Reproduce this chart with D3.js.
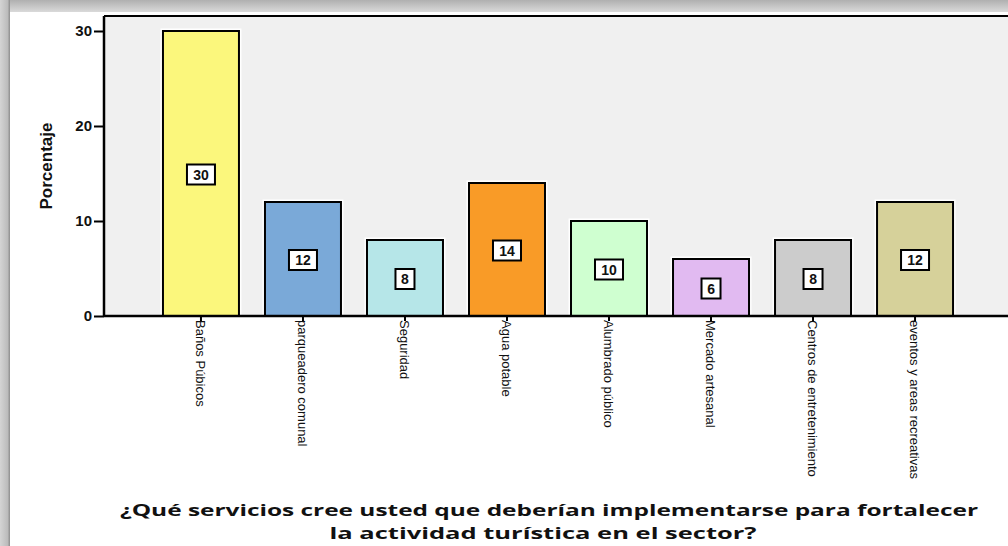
<!DOCTYPE html>
<html>
<head>
<meta charset="utf-8">
<script src="https://cdn.jsdelivr.net/npm/d3@7"></script>
<style>
  html, body { margin: 0; padding: 0; background: #fff; }
  svg { display: block; }
</style>
</head>
<body>
<div id="chart"></div>
<script>
// data
const categories = ["Baños Púbicos", "parqueadero comunal", "Seguridad", "Agua potable",
  "Alumbrado público", "Mercado artesanal", "Centros de entretenimiento", "eventos y areas recreativas"];
const values = [30, 12, 8, 14, 10, 6, 8, 12];
const colors = ["#fbf77c", "#7aa9d8", "#b6e6e8", "#f99b27", "#cfffd0", "#e1baf1", "#cccccc", "#d6d19a"];
const yTicks = [0, 10, 20, 30];
const yTitle = "Porcentaje";
const titleLines = ["¿Qué servicios cree usted que deberían implementarse para fortalecer",
  "la actividad turística en el sector?"];

const W = 1008, H = 546;
const plot = { left: 104, right: 1012, top: 16, bottom: 316 };

const svg = d3.select('#chart').append('svg').attr('width', W).attr('height', H);

// shadow frame
const defs = svg.append('defs');
const gTop = defs.append('linearGradient').attr('id', 'shTop').attr('x1', 0).attr('y1', 0).attr('x2', 0).attr('y2', 1);
gTop.append('stop').attr('offset', 0).attr('stop-color', '#b0b0b0');
gTop.append('stop').attr('offset', 1).attr('stop-color', '#dadada');
const gLeft = defs.append('linearGradient').attr('id', 'shLeft').attr('x1', 0).attr('y1', 0).attr('x2', 1).attr('y2', 0);
gLeft.append('stop').attr('offset', 0).attr('stop-color', '#d4d4d4');
gLeft.append('stop').attr('offset', 0.75).attr('stop-color', '#bcbcbc');
gLeft.append('stop').attr('offset', 1).attr('stop-color', '#8c8c8c');

svg.append('rect').attr('x', 0).attr('y', 0).attr('width', W).attr('height', 12).attr('fill', 'url(#shTop)');
svg.append('rect').attr('x', 0).attr('y', 0).attr('width', 10).attr('height', H).attr('fill', 'url(#shLeft)');

// plot background
svg.append('rect')
  .attr('x', plot.left).attr('y', plot.top)
  .attr('width', W - plot.left).attr('height', plot.bottom - plot.top)
  .attr('fill', '#f0f0f0');
svg.append('line')
  .attr('x1', plot.left).attr('x2', W).attr('y1', plot.top).attr('y2', plot.top)
  .attr('stroke', '#000').attr('stroke-width', 2);

const x = d3.scaleBand()
  .domain(categories)
  .range([plot.left, plot.right])
  .paddingInner(0.255)
  .paddingOuter(0.578);

const y = d3.scaleLinear()
  .domain([0, 30])
  .range([plot.bottom, plot.top + 15]);

const data = categories.map((c, i) => ({ name: c, amount: values[i], colour: colors[i] }));

// bars: white halo then black outline
const bars = svg.append('g');
bars.selectAll('rect.halo').data(data).enter().append('rect')
  .attr('class', 'halo')
  .attr('x', d => x(d.name)).attr('y', d => y(d.amount))
  .attr('width', x.bandwidth()).attr('height', d => y(0) - y(d.amount))
  .attr('fill', 'none').attr('stroke', '#fff').attr('stroke-width', 5);
bars.selectAll('rect.bar').data(data).enter().append('rect')
  .attr('class', 'bar')
  .attr('x', d => x(d.name)).attr('y', d => y(d.amount))
  .attr('width', x.bandwidth()).attr('height', d => y(0) - y(d.amount))
  .attr('fill', d => d.colour).attr('stroke', '#000').attr('stroke-width', 2);

// value boxes
const boxW = d => String(d.amount).length * 9 + 10;
const lab = svg.append('g').selectAll('g').data(data).enter().append('g')
  .attr('transform', d => `translate(${x(d.name) + x.bandwidth() / 2}, ${y(d.amount / 2) + 1})`);
lab.append('rect')
  .attr('x', d => -boxW(d) / 2).attr('y', -10)
  .attr('width', boxW).attr('height', 20)
  .attr('fill', '#fff').attr('stroke', '#000').attr('stroke-width', 2);
lab.append('text')
  .attr('text-anchor', 'middle').attr('dy', '0.36em')
  .attr('font-family', 'Liberation Sans, Arial, sans-serif').attr('font-size', 14).attr('font-weight', 'bold')
  .attr('fill', '#111')
  .text(d => d.amount);

// y axis
const yAxis = svg.append('g')
  .attr('transform', `translate(${plot.left}, 0)`)
  .call(d3.axisLeft(y).tickValues(yTicks).tickSize(10).tickPadding(2).tickFormat(d3.format('d')));
yAxis.select('.domain').attr('d', `M0,${plot.top}V${plot.bottom}`).attr('stroke-width', 2.5);
yAxis.selectAll('.tick line').attr('stroke-width', 2);
yAxis.selectAll('.tick text')
  .attr('font-family', 'Liberation Sans, Arial, sans-serif').attr('font-size', 15).attr('font-weight', 'bold')
  .attr('fill', '#111');

// x axis
const xAxis = svg.append('g')
  .attr('transform', `translate(0, ${plot.bottom})`)
  .call(d3.axisBottom(x).tickSize(5).tickPadding(2));
xAxis.select('.domain').attr('d', `M${plot.left},0H${W}`).attr('stroke-width', 2.5);
xAxis.selectAll('.tick line').attr('stroke-width', 2);
xAxis.selectAll('.tick text')
  .attr('transform', 'rotate(90)')
  .attr('text-anchor', 'start')
  .attr('x', 4).attr('y', 0).attr('dy', '0.35em')
  .attr('font-family', 'Liberation Sans, Arial, sans-serif').attr('font-size', 13)
  .attr('fill', '#111');

// y title
svg.append('text')
  .attr('transform', 'translate(52, 166) rotate(-90)')
  .attr('text-anchor', 'middle')
  .attr('font-family', 'Liberation Sans, Arial, sans-serif').attr('font-size', 17).attr('font-weight', 'bold')
  .attr('fill', '#111')
  .text(yTitle);

// bottom title
const titleLen = [858, 427];
const titleX = [549, 543];
svg.append('g').selectAll('text').data(titleLines).enter().append('text')
  .attr('x', (d, i) => titleX[i]).attr('y', (d, i) => 516 + i * 23)
  .attr('text-anchor', 'middle')
  .attr('textLength', (d, i) => titleLen[i]).attr('lengthAdjust', 'spacingAndGlyphs')
  .attr('font-family', 'Open Sans, sans-serif').attr('font-size', 16).attr('font-weight', 'bold')
  .attr('fill', '#111')
  .text(d => d);
</script>
</body>
</html>
